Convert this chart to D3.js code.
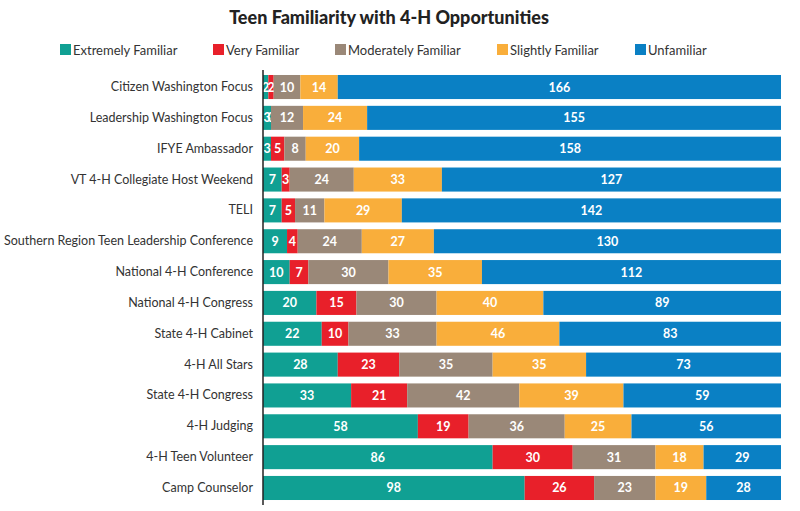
<!DOCTYPE html>
<html>
<head>
<meta charset="utf-8">
<script src="https://cdn.jsdelivr.net/npm/d3@7"></script>
<style>
  body { margin: 0; background: #fff; }
  text { font-family: Lato, "Open Sans", sans-serif; }
</style>
</head>
<body>
<script>
// ------------------------------- Data ------------------------------
var programs = [
  "Citizen Washington Focus",
  "Leadership Washington Focus",
  "IFYE Ambassador",
  "VT 4-H Collegiate Host Weekend",
  "TELI",
  "Southern Region Teen Leadership Conference",
  "National 4-H Conference",
  "National 4-H Congress",
  "State 4-H Cabinet",
  "4-H All Stars",
  "State 4-H Congress",
  "4-H Judging",
  "4-H Teen Volunteer",
  "Camp Counselor"
];
var levels = ["Extremely Familiar", "Very Familiar", "Moderately Familiar", "Slightly Familiar", "Unfamiliar"];
var extremely  = [2, 3, 3, 7, 7, 9, 10, 20, 22, 28, 33, 58, 86, 98];
var very       = [2, 0, 5, 3, 5, 4, 7, 15, 10, 23, 21, 19, 30, 26];
var moderately = [10, 12, 8, 24, 11, 24, 30, 30, 33, 35, 42, 36, 31, 23];
var slightly   = [14, 24, 20, 33, 29, 27, 35, 40, 46, 35, 39, 25, 18, 19];
var unfamiliar = [166, 155, 158, 127, 142, 130, 112, 89, 83, 73, 59, 56, 29, 28];
var colors = ["#10a093", "#e8202a", "#9a8878", "#f9ae3b", "#0a80c4"];

// ------------------------------- Chart ------------------------------
var width = 800, height = 511;
var svg = d3.select("body").append("svg")
  .attr("width", width)
  .attr("height", height);

var rows = programs.map(function(p, i) {
  return { program: p, "Extremely Familiar": extremely[i], "Very Familiar": very[i],
    "Moderately Familiar": moderately[i], "Slightly Familiar": slightly[i], "Unfamiliar": unfamiliar[i] };
});
var stacked = d3.stack().keys(levels)(rows);
var maxTotal = d3.max(rows, function(d) { return d3.sum(levels, function(k) { return d[k]; }); });

var x = d3.scaleLinear().domain([0, maxTotal]).range([263, 781]);
var y = d3.scaleBand().domain(programs).range([71.6, 503.4]).paddingInner(0.22).paddingOuter(0.11);
var color = d3.scaleOrdinal().domain(levels).range(colors);

// title
svg.append("text")
  .attr("x", 389).attr("y", 24)
  .attr("text-anchor", "middle")
  .style("font-size", "18px").style("font-weight", "900").style("fill", "#222")
  .text("Teen Familiarity with 4-H Opportunities");

// legend
var legendX = [60, 213, 335, 497, 635];
var legend = svg.selectAll(".legend").data(levels).enter().append("g")
  .attr("transform", function(d, i) { return "translate(" + legendX[i] + ",44)"; });
legend.append("rect").attr("width", 11).attr("height", 11).attr("fill", function(d) { return color(d); });
legend.append("text").attr("x", 13).attr("y", 10.5)
  .style("font-size", "13px").style("fill", "#333")
  .text(function(d) { return d; });

// bars
var series = svg.selectAll(".series").data(stacked).enter().append("g")
  .attr("fill", function(d) { return color(d.key); });
series.selectAll("rect").data(function(d) { return d; }).enter().append("rect")
  .attr("x", function(d) { return x(d[0]); })
  .attr("y", function(d) { return y(d.data.program); })
  .attr("width", function(d) { return x(d[1]) - x(d[0]); })
  .attr("height", y.bandwidth());

// value labels
series.selectAll("text").data(function(d) { return d; }).enter().append("text")
  .attr("x", function(d) { return (x(d[0]) + x(d[1])) / 2; })
  .attr("y", function(d) { return y(d.data.program) + y.bandwidth() / 2 + 4.5; })
  .attr("text-anchor", "middle")
  .style("font-size", "12.5px").style("font-weight", "bold").style("fill", "#fff")
  .text(function(d) { return d[1] - d[0]; });

// category axis
var axis = svg.append("g").attr("transform", "translate(263,0)")
  .call(d3.axisLeft(y).tickSize(0).tickPadding(10));
axis.select(".domain").attr("stroke", "#222").attr("stroke-width", 1.5)
  .attr("d", "M0,70V505");
axis.selectAll("text").style("font-size", "12.5px").style("fill", "#333")
  .style("font-family", "Lato, sans-serif");
</script>
</body>
</html>
